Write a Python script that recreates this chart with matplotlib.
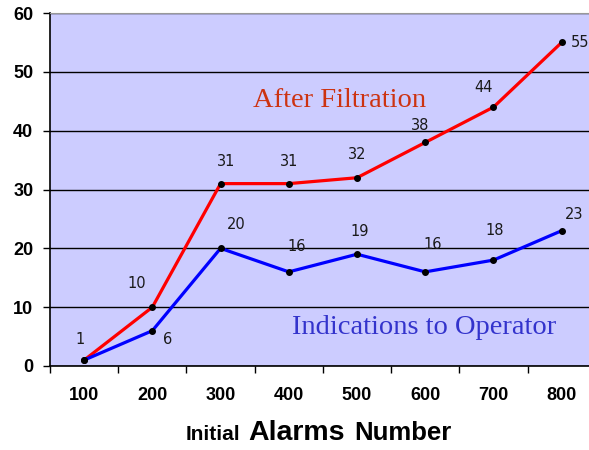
import matplotlib
matplotlib.use('AGG')

import numpy as np
import matplotlib.pyplot as plt

# Data
categories = ['100', '200', '300', '400', '500', '600', '700', '800']
after_filtration = [1, 10, 31, 31, 32, 38, 44, 55]
indications = [1, 6, 20, 16, 19, 16, 18, 23]

# label offsets (points) for each data label
red_offsets = [(-3, 15), (-11, 17), (4, 16), (0, 16), (0, 17), (-4, 12), (-7, 14), (13, 0)]
blue_offsets = [None, (11, -6), (11, 17), (6, 18), (2, 16), (5, 20), (1, 21), (9, 12)]

x = np.arange(len(categories))

fig = plt.figure(figsize=(5.89, 4.5), dpi=100)
ax = fig.add_axes([50/589, 84/450, 539/589, 353/450])
ax.set_facecolor('#CCCCFF')

ax.plot(x, after_filtration, color='#FF0000', linewidth=2.3, zorder=3)
ax.plot(x, indications, color='#0000FF', linewidth=2.3, zorder=3)
ax.plot(x, after_filtration, 'o', color='black', markersize=4, zorder=4)
ax.plot(x, indications, 'o', color='black', markersize=4, zorder=4)

for xi, v, off in zip(x, after_filtration, red_offsets):
    ax.annotate(str(v), (xi, v), xytext=off, textcoords='offset points',
                ha='center', va='center', fontsize=10.5, color='#1a1a1a')
for xi, v, off in zip(x, indications, blue_offsets):
    if off is None:
        continue
    ax.annotate(str(v), (xi, v), xytext=off, textcoords='offset points',
                ha='center', va='center', fontsize=10.5, color='#1a1a1a')

ax.text(3.75, 45.2, 'After Filtration', color='#CC3311', fontsize=20.5,
        family='Liberation Serif', ha='center', va='center')
ax.text(4.98, 6.6, 'Indications to Operator', color='#3333CC', fontsize=20.5,
        family='Liberation Serif', ha='center', va='center')

ax.set_xlim(-0.5, 7.4)
ax.set_ylim(0, 60)
ax.set_yticks(np.arange(0, 61, 10))
ax.yaxis.grid(True, color='black', linewidth=1)
ax.set_axisbelow(True)

ax.set_xticks(x)
ax.set_xticklabels(categories)
ax.set_xticks(np.arange(-0.5, 7.5, 1), minor=True)
ax.tick_params(axis='x', which='major', length=0, pad=15)
ax.tick_params(axis='x', which='minor', length=5, width=1, direction='out')
ax.tick_params(axis='y', length=5, width=1, direction='out', pad=7)
for lab in ax.get_xticklabels() + ax.get_yticklabels():
    lab.set_fontsize(13)
    lab.set_fontweight('bold')
    lab.set_family('Liberation Sans')

ax.spines['right'].set_visible(False)
ax.spines['top'].set_color('#999999')
ax.spines['left'].set_linewidth(1.2)
ax.spines['bottom'].set_linewidth(1.2)

# x axis title with mixed sizes
y0 = 10/450
fig.text(186/589, y0, 'Initial', fontsize=15, fontweight='bold', family='Liberation Sans', va='baseline')
fig.text(248/589, y0, 'Alarms', fontsize=20.5, fontweight='bold', family='Liberation Sans', va='baseline')
fig.text(354/589, y0, 'Number', fontsize=18.5, fontweight='bold', family='Liberation Sans', va='baseline')

plt.savefig('out.png', dpi=100)
